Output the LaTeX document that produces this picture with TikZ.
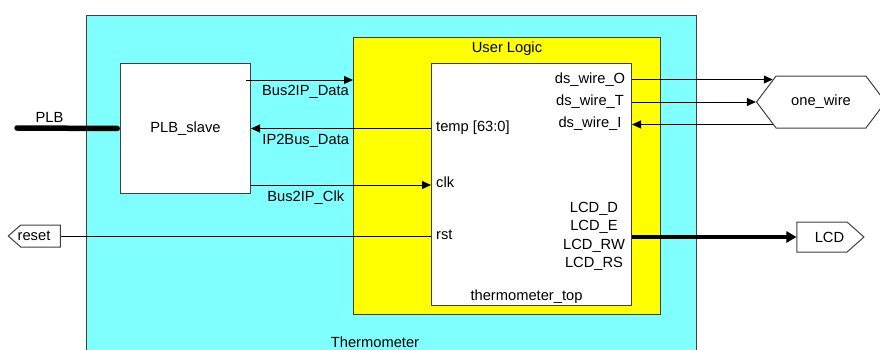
\documentclass[tikz,border=0pt]{standalone}
\usepackage{fontspec}
\setmainfont{Liberation Sans}
\usetikzlibrary{arrows.meta,positioning,calc,shapes.symbols}

\definecolor{thermcyan}{HTML}{80FFFF}
\definecolor{logicyellow}{HTML}{FFFF00}
\definecolor{edgegray}{HTML}{404040}

\begin{document}
\begin{tikzpicture}[
    x=1pt, y=-1pt,
    font=\fontsize{14.7}{17}\selectfont,
    block/.style={
        draw=edgegray,
        line width=1pt,
        inner sep=0pt,
        anchor=north west
    },
    tag/.style={
        draw=edgegray,
        fill=white,
        line width=1pt,
        shape=signal,
        signal pointer angle=83,
        inner sep=0pt
    },
    txt/.style={inner sep=0pt},
    wire/.style={draw=black, line width=1pt},
    bus/.style={draw=black, line width=4.5pt},
    >={Triangle[length=9pt,width=8pt]}
]

\useasboundingbox (0,0) rectangle (880,349);
\clip (0,0) rectangle (880,349);

% nested blocks
\node[block, fill=thermcyan, minimum width=610pt, minimum height=350pt] (therm) at (86,15) {};
\node[block, fill=logicyellow, minimum width=307pt, minimum height=277pt] (ulogic) at (353,37) {};
\node[block, fill=white, minimum width=200pt, minimum height=242pt] (top) at (431,63) {};
\node[block, fill=white, minimum width=130pt, minimum height=130pt] (slave) at (120,63) {PLB\_slave};

\node[txt, anchor=base] (thermtitle) at (375,347) {Thermometer};
\node[txt, below=4.5pt of ulogic.north] (ulogictitle) {User Logic};
\node[txt, above=2pt of top.south, xshift=-5pt] (toptitle) {thermometer\_top};

% ports of thermometer_top
\node[txt, anchor=base west] (ptemp) at (436,131) {temp [63:0]};
\node[txt, anchor=base west] (pclk) at (436,187) {clk};
\node[txt, anchor=base west] (prst) at (436,239.5) {rst};
\node[txt, anchor=base] (pdso) at (590,83.5) {ds\_wire\_O};
\node[txt, anchor=base] (pdst) at (590,105.5) {ds\_wire\_T};
\node[txt, anchor=base] (pdsi) at (590,127.5) {ds\_wire\_I};
\node[txt, anchor=base] (plcdd) at (594,212.5) {LCD\_D};
\node[txt, anchor=base] (plcde) at (594,230.8) {LCD\_E};
\node[txt, anchor=base] (plcdrw) at (594,249.2) {LCD\_RW};
\node[txt, anchor=base] (plcdrs) at (594,267.5) {LCD\_RS};

% outside pins
\node[tag, signal to=west, minimum width=52pt, minimum height=22pt] (reset) at (40.5,236) {};
\node[txt] (resetlabel) at ([xshift=-6.5pt]reset.center) {reset};
\node[tag, signal to=east, minimum width=67pt, minimum height=30pt] (lcd) at (822,237) {};
\node[txt] (lcdlabel) at ([xshift=7.5pt]lcd.center) {LCD};
\node[tag, signal to=west and east, signal pointer angle=106, minimum width=129pt, minimum height=52pt] (onewire) at (821,102) {one\_wire};

\coordinate (plbend) at (17,128);
\draw[bus, line width=5.5pt, line cap=round, shorten >=2.75pt] (plbend) -- (slave.west);
\node[txt, anchor=base] (plblabel) at (49.5,122) {PLB};

\draw[wire, ->] ([shift={(-5pt,-17pt)}]slave.north east) coordinate (busdata) -- (ulogic.west |- busdata)
    node[txt, pos=0.556, below=5pt] {Bus2IP\_Data};
\draw[wire, ->] (top.west |- slave.east) -- (slave.east)
    node[txt, pos=0.696, below=5pt] {IP2Bus\_Data};
\draw[wire, ->] ([yshift=9pt]slave.south east) coordinate (busclk) -- (top.west |- busclk)
    node[txt, pos=0.304, below=5pt] {Bus2IP\_Clk};
\draw[wire] (reset.east) -- (top.west |- reset.east);

\draw[wire, ->] (top.east |- onewire.155) -- (onewire.155);
\draw[wire, ->] (top.east |- onewire.west) -- (onewire.west);
\draw[wire, ->] (onewire.205) -- (top.east |- onewire.205);
\draw[bus, -{Triangle[length=10pt,width=11pt]}] (top.east |- lcd.west) -- (lcd.west);

\end{tikzpicture}
\end{document}
